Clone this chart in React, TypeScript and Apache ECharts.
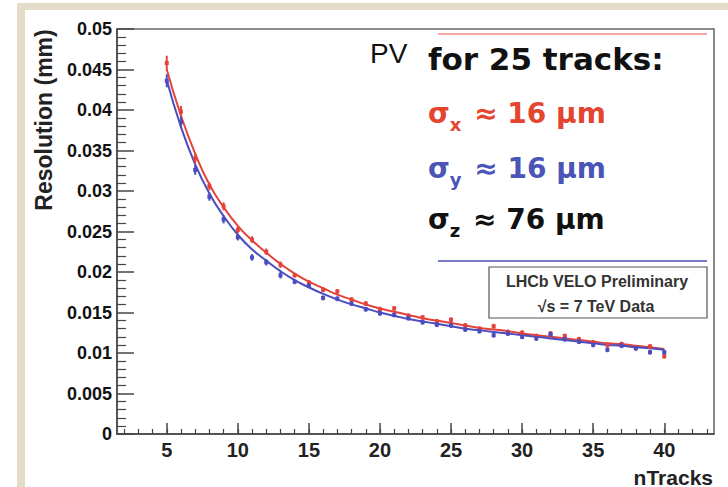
import React, { useEffect, useRef } from "react";
import * as echarts from "echarts";

const nTracks = [5, 6, 7, 8, 9, 10, 11, 12, 13, 14, 15, 16, 17, 18, 19, 20, 21, 22, 23, 24, 25, 26, 27, 28, 29, 30, 31, 32, 33, 34, 35, 36, 37, 38, 39, 40];

const redPoints = [0.0458, 0.0398, 0.0340, 0.0306, 0.0281, 0.0252, 0.0240, 0.0225, 0.0209, 0.0196, 0.0187, 0.0178, 0.0176, 0.0166, 0.0161, 0.0154, 0.0155, 0.0146, 0.0144, 0.0139, 0.0141, 0.0134, 0.0130, 0.0133, 0.0126, 0.0125, 0.0121, 0.0124, 0.0121, 0.0117, 0.0113, 0.0110, 0.0111, 0.0106, 0.0108, 0.0096];
const bluePoints = [0.0436, 0.0385, 0.0326, 0.0293, 0.0265, 0.0243, 0.0218, 0.0212, 0.0196, 0.0188, 0.0183, 0.0168, 0.0167, 0.0161, 0.0154, 0.0149, 0.0147, 0.0143, 0.0138, 0.0135, 0.0134, 0.0129, 0.0127, 0.0122, 0.0124, 0.0120, 0.0118, 0.0123, 0.0117, 0.0114, 0.0110, 0.0104, 0.0109, 0.0106, 0.0101, 0.0101];
const redErrors = [0.0009, 0.0007, 0.0006, 0.0005, 0.0005, 0.0004, 0.0004, 0.0004, 0.0004, 0.0003, 0.0003, 0.0003, 0.0003, 0.0003, 0.0003, 0.0003, 0.0003, 0.0003, 0.0003, 0.0003, 0.0003, 0.0003, 0.0003, 0.0003, 0.0003, 0.0003, 0.0003, 0.0003, 0.0003, 0.0003, 0.0003, 0.0003, 0.0003, 0.0003, 0.0003, 0.0003];
const blueErrors = [0.0008, 0.0007, 0.0006, 0.0005, 0.0005, 0.0004, 0.0004, 0.0004, 0.0004, 0.0003, 0.0003, 0.0003, 0.0003, 0.0003, 0.0003, 0.0003, 0.0003, 0.0003, 0.0003, 0.0003, 0.0003, 0.0003, 0.0003, 0.0003, 0.0003, 0.0003, 0.0003, 0.0003, 0.0003, 0.0003, 0.0003, 0.0003, 0.0003, 0.0003, 0.0003, 0.0003];
const redFit = [0.0450, 0.0393, 0.0346, 0.0308, 0.0280, 0.0257, 0.0239, 0.0224, 0.0210, 0.0198, 0.0188, 0.0180, 0.0172, 0.0166, 0.0160, 0.0155, 0.0151, 0.0147, 0.0143, 0.0140, 0.0137, 0.0134, 0.0131, 0.0129, 0.0127, 0.0124, 0.0122, 0.0120, 0.0118, 0.0116, 0.0114, 0.0112, 0.0111, 0.0109, 0.0107, 0.0105];
const blueFit = [0.0437, 0.0379, 0.0333, 0.0297, 0.0269, 0.0246, 0.0228, 0.0214, 0.0201, 0.0190, 0.0181, 0.0173, 0.0166, 0.0160, 0.0155, 0.0150, 0.0146, 0.0142, 0.0139, 0.0136, 0.0133, 0.0130, 0.0128, 0.0126, 0.0124, 0.0122, 0.0120, 0.0118, 0.0116, 0.0114, 0.0112, 0.0110, 0.0109, 0.0107, 0.0106, 0.0104];

const xMajorTicks = [5, 10, 15, 20, 25, 30, 35, 40];
const xMinorTicks = [2, 3, 4, 5, 6, 7, 8, 9, 10, 11, 12, 13, 14, 15, 16, 17, 18, 19, 20, 21, 22, 23, 24, 25, 26, 27, 28, 29, 30, 31, 32, 33, 34, 35, 36, 37, 38, 39, 40, 41, 42, 43];

const RED = "#e4433a";
const BLUE = "#4a4cbf";

function errorSeries(name: string, vals: number[], errs: number[], color: string) {
  return {
    name,
    type: "custom",
    xAxisIndex: 0,
    yAxisIndex: 0,
    z: 5,
    data: nTracks.map((n, i) => [n, vals[i], errs[i]]),
    encode: { x: 0, y: 1 },
    renderItem: (params: any, api: any) => {
      const n = api.value(0);
      const v = api.value(1);
      const e = api.value(2);
      const c = api.coord([n, v]);
      const hi = api.coord([n, v + e]);
      const lo = api.coord([n, v - e]);
      return {
        type: "group",
        children: [
          { type: "line", shape: { x1: c[0], y1: hi[1], x2: c[0], y2: lo[1] }, style: { stroke: color, lineWidth: 2 } },
          { type: "rect", shape: { x: c[0] - 2, y: c[1] - 2, width: 4, height: 4 }, style: { fill: color } },
        ],
      };
    },
  };
}

function sigmaText(y: number, subscript: string, value: string, color: string) {
  return {
    type: "text",
    x: 428,
    y,
    style: {
      text: `{s|σ}{b|${subscript}}{s| ${value}}`,
      fill: color,
      verticalAlign: "middle",
      align: "left",
      rich: {
        s: { font: "bold 28px 'DejaVu Sans'", fill: color, lineHeight: 40, verticalAlign: "middle" },
        b: { font: "bold 18px 'DejaVu Sans'", fill: color, lineHeight: 40, verticalAlign: "bottom", padding: [0, 3, 0, 0] },
      },
    },
  };
}

export default function App() {
  const ref = useRef<HTMLDivElement>(null);
  useEffect(() => {
    if (!ref.current) return;
    const chart = echarts.init(ref.current, null, { renderer: "svg" });
    chart.setOption({
      animation: false,
      backgroundColor: "#ffffff",
      grid: { left: 117, right: 14, top: 29, bottom: 53, show: true, borderColor: "#666", borderWidth: 1.5, backgroundColor: "transparent" },
      xAxis: [
        {
          type: "value",
          position: "bottom",
          min: 1.5,
          max: 43.5,
          axisLine: { show: true, lineStyle: { color: "#444", width: 1.5 } },
          axisTick: { show: true, inside: true, length: 11, customValues: xMajorTicks, lineStyle: { color: "#444", width: 1.5 } },
          axisLabel: { show: true, customValues: xMajorTicks, margin: 6, color: "#222", fontSize: 20, fontWeight: "bold", fontFamily: "'Liberation Sans'" },
          splitLine: { show: false },
        },
        {
          type: "value",
          position: "bottom",
          min: 1.5,
          max: 43.5,
          axisLine: { show: false },
          axisTick: { show: true, inside: true, length: 5, customValues: xMinorTicks, lineStyle: { color: "#444", width: 1.2 } },
          axisLabel: { show: false },
          splitLine: { show: false },
        },
      ],
      yAxis: {
        type: "value",
        min: 0,
        max: 0.05,
        interval: 0.005,
        axisLine: { show: true, lineStyle: { color: "#444", width: 1.5 } },
        axisTick: { show: true, inside: true, length: 17, lineStyle: { color: "#444", width: 1.5 } },
        minorTick: { show: true, splitNumber: 5, length: 9, lineStyle: { color: "#444", width: 1.2 } },
        axisLabel: {
          margin: 5,
          color: "#111",
          fontSize: 18,
          fontWeight: "bold",
          fontFamily: "'Liberation Sans'",
          formatter: (v: number) => (v === 0 ? "0" : String(+v.toFixed(3))),
        },
        splitLine: { show: false },
      },
      series: [
        {
          name: "fit x",
          type: "line",
          xAxisIndex: 0,
          smooth: true,
          symbol: "none",
          z: 3,
          lineStyle: { color: RED, width: 2 },
          data: nTracks.map((n, i) => [n, redFit[i]]),
        },
        {
          name: "fit y",
          type: "line",
          xAxisIndex: 0,
          smooth: true,
          symbol: "none",
          z: 3,
          lineStyle: { color: BLUE, width: 2 },
          data: nTracks.map((n, i) => [n, blueFit[i]]),
        },
        errorSeries("sigma x", redPoints, redErrors, RED),
        errorSeries("sigma y", bluePoints, blueErrors, BLUE),
      ],
      graphic: [
        { type: "rect", shape: { x: 17, y: 3, width: 711, height: 7 }, style: { fill: "#e4dcc8" }, silent: true },
        { type: "rect", shape: { x: 17, y: 3, width: 8, height: 484 }, style: { fill: "#e4dcc8" }, silent: true },
        { type: "line", shape: { x1: 438, y1: 34, x2: 707, y2: 34 }, style: { stroke: "#f2a6a6", lineWidth: 2 } },
        { type: "line", shape: { x1: 438, y1: 261, x2: 707, y2: 261 }, style: { stroke: "#7a7ac8", lineWidth: 2 } },
        { type: "text", x: 370, y: 53, style: { text: "PV", font: "28px 'Liberation Sans'", fill: "#111", verticalAlign: "middle", align: "left" } },
        { type: "text", x: 428, y: 59, style: { text: "for 25 tracks:", font: "bold 31px 'DejaVu Sans'", fill: "#111", verticalAlign: "middle", align: "left" } },
        sigmaText(113, "x", "≈ 16 μm", "#e4452e"),
        sigmaText(168, "y", "≈ 16 μm", "#4a55b6"),
        sigmaText(219, "z", "≈ 76 μm", "#111"),
        { type: "rect", shape: { x: 489, y: 267, width: 218, height: 51 }, style: { fill: "#fff", stroke: "#555", lineWidth: 1.2 } },
        { type: "text", x: 597, y: 281, style: { text: "LHCb VELO Preliminary", font: "bold 16px 'Liberation Sans'", fill: "#333", verticalAlign: "middle", align: "center" } },
        { type: "text", x: 596, y: 306, style: { text: "√s = 7 TeV Data", font: "bold 16px 'Liberation Sans'", fill: "#333", verticalAlign: "middle", align: "center" } },
        { type: "text", x: 713, y: 477, style: { text: "nTracks", font: "bold 21px 'Liberation Sans'", fill: "#222", verticalAlign: "middle", align: "right" } },
        {
          type: "text",
          x: 44,
          y: 120,
          rotation: Math.PI / 2,
          style: { text: "Resolution (mm)", font: "bold 23px 'Liberation Sans'", fill: "#222", verticalAlign: "middle", align: "center" },
        },
      ],
    });
    return () => chart.dispose();
  }, []);
  return <div ref={ref} style={{ position: "fixed", left: 0, top: 0, width: 728, height: 487 }} />;
}
